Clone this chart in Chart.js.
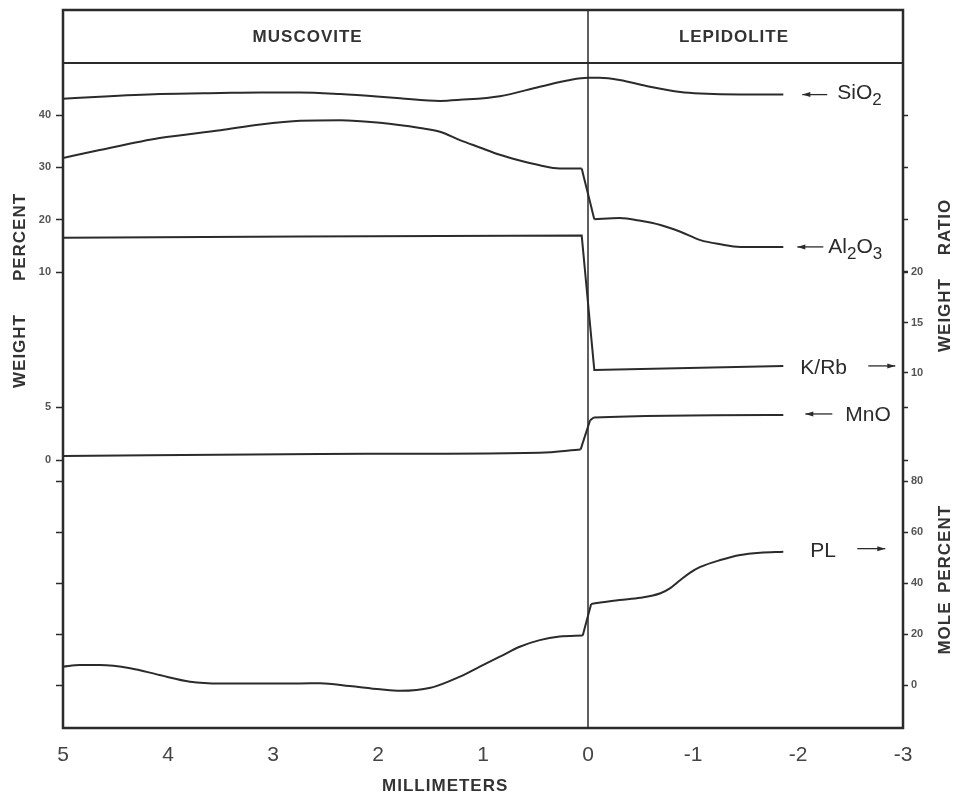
<!DOCTYPE html>
<html>
<head>
<meta charset="utf-8">
<script src="https://cdn.jsdelivr.net/npm/chart.js@4.4.0/dist/chart.umd.min.js"></script>
<style>
  html, body { margin: 0; padding: 0; background: #fff; }
  canvas { display: block; }
</style>
</head>
<body>
<canvas id="chart" width="955" height="799"></canvas>
<script>
// distance in mm: positive = muscovite side, negative = lepidolite side
const xSiO2 = [5.0, 4.65, 4.08, 3.5, 3.12, 2.74, 2.36, 1.98, 1.79, 1.41, 1.22, 0.84, 0.46, 0.17, 0.0, -0.11, -0.3, -0.59, -0.88, -1.07, -1.45, -1.86];
const siO2 = [43.1, 43.5, 44.0, 44.2, 44.3, 44.3, 44.0, 43.5, 43.2, 42.7, 42.9, 43.6, 45.4, 46.7, 47.1, 47.1, 46.7, 45.4, 44.4, 44.1, 43.9, 43.9];

const xAl2O3 = [5.0, 4.65, 4.08, 3.5, 3.12, 2.74, 2.36, 1.98, 1.6, 1.41, 1.22, 1.03, 0.84, 0.65, 0.46, 0.27, 0.06, -0.06, -0.3, -0.5, -0.69, -0.88, -1.07, -1.26, -1.45, -1.86];
const al2O3 = [31.8, 33.3, 35.6, 37.1, 38.2, 38.9, 39.0, 38.5, 37.5, 36.8, 35.2, 33.8, 32.4, 31.3, 30.4, 29.8, 29.8, 20.1, 20.3, 19.8, 19.0, 17.7, 16.1, 15.3, 14.8, 14.8];

const xKRb = [5.0, 2.74, 0.06, -0.06, -1.86];
const kRb = [23.4, 23.5, 23.6, 10.3, 10.7];

const xMnO = [5.0, 2.55, 0.46, 0.07, -0.02, -0.06, -1.86];
const mnO = [0.38, 0.57, 0.69, 1.0, 3.75, 4.0, 4.25];

const xPL = [5.0, 4.84, 4.65, 4.36, 4.08, 3.79, 3.5, 3.12, 2.74, 2.55, 2.27, 1.98, 1.79, 1.5, 1.22, 1.03, 0.84, 0.65, 0.46, 0.27, 0.05, -0.03, -0.3, -0.5, -0.69, -0.78, -0.88, -0.97, -1.07, -1.26, -1.45, -1.64, -1.86];
const pl = [7.2, 7.8, 7.8, 6.6, 3.9, 1.3, 0.6, 0.6, 0.6, 0.7, -0.4, -1.7, -2.3, -1.1, 3.3, 7.2, 11.1, 15.0, 17.6, 19.0, 19.4, 31.8, 33.3, 34.2, 36.0, 37.9, 41.2, 44.0, 46.3, 49.0, 51.0, 51.9, 52.3];

// tick labels
const xTicks = [5, 4, 3, 2, 1, 0, -1, -2, -3];
const weightPctTicks = [40, 30, 20, 10];
const weightPctLowTicks = [5, 0];
const ratioTicks = [20, 15, 10];
const molePctTicks = [80, 60, 40, 20, 0];

const INK = '#2b2b2b';

// step: index of the last point before the jump at the contact (-1 = none, 'all' = straight line)
const series = [
    { name: 'SiO2', xs: xSiO2, ys: siO2, axis: 'yW', step: -1 },
    { name: 'Al2O3', xs: xAl2O3, ys: al2O3, axis: 'yW', step: 16 },
    { name: 'K/Rb', xs: xKRb, ys: kRb, axis: 'yR', step: 'all' },
    { name: 'MnO', xs: xMnO, ys: mnO, axis: 'yM', step: 3 },
    { name: 'PL', xs: xPL, ys: pl, axis: 'yP', step: 20 }
];

function lineSet(label, xs, ys, axis, smooth) {
    return {
        label: label,
        data: xs.map((x, i) => ({ x: x, y: ys[i] })),
        yAxisID: axis,
        borderColor: INK,
        borderWidth: 2,
        pointRadius: 0,
        fill: false,
        tension: smooth ? 0.4 : 0,
        cubicInterpolationMode: smooth ? 'monotone' : 'default'
    };
}

const datasets = [];
const lastSet = {};
series.forEach(s => {
    if (s.step === 'all') {
        datasets.push(lineSet(s.name, s.xs, s.ys, s.axis, false));
    } else if (s.step < 0) {
        datasets.push(lineSet(s.name, s.xs, s.ys, s.axis, true));
    } else {
        const k = s.step;
        datasets.push(lineSet(s.name, s.xs.slice(0, k + 1), s.ys.slice(0, k + 1), s.axis, true));
        datasets.push(lineSet(s.name, s.xs.slice(k, k + 2), s.ys.slice(k, k + 2), s.axis, false));
        datasets.push(lineSet(s.name, s.xs.slice(k + 1), s.ys.slice(k + 1), s.axis, true));
    }
    lastSet[s.name] = datasets.length - 1;
});

function yAxis(pos, min, max, ticks, showLabels, tickLen, pad) {
    return {
        type: 'linear',
        position: pos,
        min: min,
        max: max,
        afterFit: s => { s.width = 0; },
        afterBuildTicks: s => { s.ticks = ticks.map(v => ({ value: v })); },
        border: { display: false },
        grid: { drawOnChartArea: false, drawTicks: true, tickLength: tickLen, color: INK, tickWidth: 1.5 },
        ticks: {
            display: showLabels,
            autoSkip: false,
            padding: pad,
            color: '#555',
            font: { family: 'Liberation Sans', size: 11, weight: 'bold' },
            callback: v => String(v)
        }
    };
}

// range of each vertical scale across the plot height
const W_MIN = -77.13, W_MAX = 49.94;
const M_MIN = -25.28, M_MAX = 37.45;
const R_MIN = -25.15, R_MAX = 40.69;
const P_MIN = -16.86, P_MAX = 243.92;

function drawArrow(ctx, x1, x2, y, dir) {
    ctx.beginPath();
    ctx.moveTo(x1, y);
    ctx.lineTo(x2, y);
    ctx.stroke();
    const tip = dir < 0 ? x1 : x2;
    ctx.beginPath();
    ctx.moveTo(tip, y);
    ctx.lineTo(tip - dir * 8, y - 2.5);
    ctx.lineTo(tip - dir * 8, y + 2.5);
    ctx.closePath();
    ctx.fill();
}

function drawChem(ctx, parts, x, y) {
    let cx = x;
    parts.forEach(([t, sub]) => {
        ctx.font = sub ? '17px "Liberation Sans"' : '21px "Liberation Sans"';
        ctx.fillText(t, cx, sub ? y + 7 : y);
        cx += ctx.measureText(t).width;
    });
}

// curve labels: offsets from each curve's last point
const curveLabels = [
    { name: 'SiO2', parts: [['SiO', 0], ['2', 1]], text: 54, dy: -1, arrow: [19, 44], ady: 0, dir: -1 },
    { name: 'Al2O3', parts: [['Al', 0], ['2', 1], ['O', 0], ['3', 1]], text: 45, dy: 0, arrow: [14, 40], ady: 0, dir: -1 },
    { name: 'K/Rb', parts: [['K/Rb', 0]], text: 17, dy: 2, arrow: [85, 112], ady: 0, dir: 1 },
    { name: 'MnO', parts: [['MnO', 0]], text: 62, dy: 0, arrow: [22, 49], ady: -1, dir: -1 },
    { name: 'PL', parts: [['PL', 0]], text: 27, dy: 0, arrow: [74, 102], ady: -3, dir: 1 }
];

const decorPlugin = {
    id: 'decor',
    // axes are fitted with zero size so they overlap; widen their boxes again so labels are not clipped
    afterLayout(chart) {
        Object.values(chart.scales).forEach(s => {
            if (s.position === 'left') s.left = s.right - 60;
            else if (s.position === 'right') s.right = s.left + 50;
            else if (s.position === 'bottom') s.bottom = s.top + 60;
        });
    },
    beforeDatasetsDraw(chart) {
        const { ctx, chartArea: a, scales } = chart;
        const x0 = scales.x.getPixelForValue(0);
        ctx.save();
        ctx.strokeStyle = INK;
        ctx.lineWidth = 1.5;
        ctx.beginPath();
        ctx.moveTo(x0, 10);
        ctx.lineTo(x0, a.bottom);
        ctx.stroke();
        ctx.restore();
    },
    afterDraw(chart) {
        const { ctx, chartArea: a, scales } = chart;
        const sx = scales.x;
        ctx.save();
        ctx.strokeStyle = INK;
        ctx.fillStyle = INK;

        // frame + header band
        ctx.lineWidth = 2.5;
        ctx.strokeRect(a.left, 10, a.right - a.left, a.bottom - 10);
        ctx.lineWidth = 2;
        ctx.beginPath();
        ctx.moveTo(a.left, a.top);
        ctx.lineTo(a.right, a.top);
        ctx.stroke();

        ctx.font = 'bold 17px "Liberation Sans"';
        ctx.letterSpacing = '1px';
        ctx.textAlign = 'center';
        ctx.textBaseline = 'middle';
        ctx.fillStyle = '#333';
        ctx.fillText('MUSCOVITE', sx.getPixelForValue(2.67), 37);
        ctx.fillText('LEPIDOLITE', sx.getPixelForValue(-1.39), 37);
        ctx.fillText('MILLIMETERS', sx.getPixelForValue(1.36), 786);

        // rotated axis titles
        const vText = (t, x, y) => {
            ctx.save();
            ctx.translate(x, y);
            ctx.rotate(-Math.PI / 2);
            ctx.fillText(t, 0, 0);
            ctx.restore();
        };
        vText('WEIGHT', 20, 351);
        vText('PERCENT', 20, 237);
        vText('WEIGHT', 945, 315);
        vText('RATIO', 945, 227);
        vText('MOLE', 945, 628);
        vText('PERCENT', 945, 549);
        ctx.letterSpacing = '0px';

        // curve labels with arrows
        ctx.textAlign = 'left';
        ctx.fillStyle = INK;
        ctx.lineWidth = 1.3;
        curveLabels.forEach(l => {
            const pts = chart.getDatasetMeta(lastSet[l.name]).data;
            const end = pts[pts.length - 1];
            drawChem(ctx, l.parts, end.x + l.text, end.y + l.dy);
            drawArrow(ctx, end.x + l.arrow[0], end.x + l.arrow[1], end.y + l.ady, l.dir);
        });
        ctx.restore();
    }
};

new Chart(document.getElementById('chart'), {
    type: 'line',
    data: { datasets: datasets },
    options: {
        responsive: false,
        animation: false,
        layout: { padding: { left: 63, right: 52, top: 63, bottom: 71 } },
        plugins: { legend: { display: false }, tooltip: { enabled: false } },
        scales: {
            x: {
                type: 'linear',
                min: -3,
                max: 5,
                reverse: true,
                afterFit: s => { s.height = 0; },
                afterBuildTicks: s => { s.ticks = xTicks.map(v => ({ value: v })); },
                border: { display: false },
                grid: { display: false, drawTicks: false },
                ticks: {
                    autoSkip: false,
                    maxRotation: 0,
                    padding: 15,
                    color: '#444',
                    font: { family: 'Liberation Sans', size: 21 },
                    callback: v => String(v)
                }
            },
            yW: yAxis('left', W_MIN, W_MAX, weightPctTicks, true, 7, 5),
            yM: yAxis('left', M_MIN, M_MAX, weightPctLowTicks, true, 7, 5),
            yPm: yAxis('left', P_MIN, P_MAX, molePctTicks, false, 7, 5),
            yR: yAxis('right', R_MIN, R_MAX, ratioTicks, true, 5, 3),
            yP: yAxis('right', P_MIN, P_MAX, molePctTicks, true, 5, 3),
            yWm: yAxis('right', W_MIN, W_MAX, weightPctTicks, false, 5, 3),
            yMm: yAxis('right', M_MIN, M_MAX, weightPctLowTicks, false, 5, 3)
        }
    },
    plugins: [decorPlugin]
});
</script>
</body>
</html>
